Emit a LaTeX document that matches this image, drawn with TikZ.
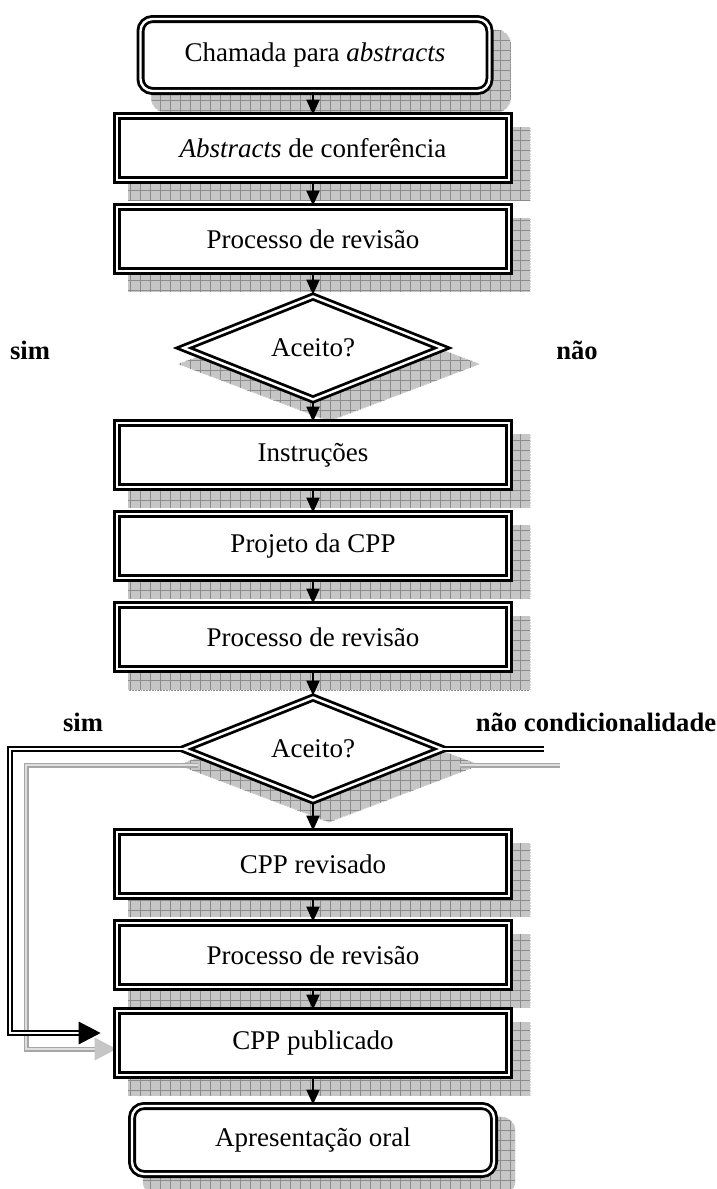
\documentclass[tikz,border=0pt]{standalone}
\usepackage{fontspec}
\setmainfont{Liberation Serif}
\usetikzlibrary{shapes.geometric,arrows.meta,backgrounds,calc}
\begin{document}
\begin{tikzpicture}[x=0.5pt,y=-0.5pt,
  txt/.style={font=\fontsize{13.5}{16}\selectfont},
  box/.style={txt, draw=black, line width=1.4pt, double=white, double distance=1.2pt,
    fill=white, minimum width=196pt, minimum height=32pt, inner sep=0pt},
  rbox/.style={box, rounded corners=6pt},
  dia/.style={box, diamond, minimum width=130pt, minimum height=52pt},
  arr/.style={line width=1pt, -{Triangle[length=7.5pt,width=6.5pt]}},
  lab/.style={font=\fontsize{13.3}{16}\selectfont\bfseries},
  dline/.style={draw=black, line width=0.9pt, double=white, double distance=1.3pt},
  sline/.style={draw=gray!70, line width=0.6pt, double=gray!25, double distance=1.3pt},
  shadowsty/.style={fill=gray!45, draw=white, densely dotted, line width=0.4pt,
    path picture={\draw[gray!90, solid, line width=0.3pt, step=5pt]
      (path picture bounding box.south west) grid (path picture bounding box.north east);}},
]
\useasboundingbox (0,0) rectangle (717,1189);

% nodes
\node[rbox, minimum width=174.5pt, minimum height=36pt] (n1) at (315,55) {Chamada para \textit{abstracts}};
\node[box] (n2) at (313,148) {\textit{Abstracts} de conferência};
\node[box] (n3) at (313,239) {Processo de revisão};
\node[dia] (d1) at (313,348) {Aceito?};
\node[box] (n4) at (313,455) {Instruções};
\node[box] (n5) at (313,546) {Projeto da CPP};
\node[box] (n6) at (313,637) {Processo de revisão};
\node[dia] (d2) at (313,749) {Aceito?};
\node[box] (n7) at (313,864) {CPP revisado};
\node[box] (n8) at (313,955) {Processo de revisão};
\node[box] (n9) at (313,1043) {CPP publicado};
\node[rbox, minimum width=181pt, minimum height=34pt] (n10) at (313,1140) {Apresentação oral};

% labels
\node[lab] (s1) at (30,350) {sim};
\node[lab] (s2) at (577,350) {não};
\node[lab] (s3) at (83,722) {sim};
\node[lab] (s4) at (596,722) {não condicionalidade};

% connector helper coordinates
\coordinate (L) at (10,749);
\coordinate (R) at (544,749);
\coordinate (T) at ($(n9.west)+(-15,-10)$);
\coordinate (A) at ($(T)+(-22,0)$);

% shadows
\begin{scope}[on background layer]
  \path[shadowsty, rounded corners=7pt] ([shift={(12,12)}]n1.north west) rectangle ([shift={(20,20)}]n1.south east);
  \foreach \n in {n2,n3,n4,n5,n6,n7,n8,n9}{
    \path[shadowsty] ([shift={(12,12)}]\n.north west) rectangle ([shift={(20,20)}]\n.south east);
  }
  \path[shadowsty, rounded corners=7pt] ([shift={(12,12)}]n10.north west) rectangle ([shift={(20,20)}]n10.south east);
  \foreach \d in {d1,d2}{
    \path[shadowsty] ([shift={(16,12)}]\d.north) -- ([shift={(36,16)}]\d.east)
      -- ([shift={(16,20)}]\d.south) -- ([shift={(-4,16)}]\d.west) -- cycle;
  }
  \draw[sline] ([shift={(16,16)}]d2.west) -- ([shift={(16,16)}]L) |- ([shift={(16,16)}]A);
  \draw[sline] ([shift={(16,16)}]d2.east) -- ([shift={(16,16)}]R);
  \fill[gray!45] ([shift={(16,4.5)}]A) -- ([shift={(16,16)}]T) -- ([shift={(16,27.5)}]A) -- cycle;
\end{scope}

% vertical arrows
\draw[arr] (n1.south -| n2.north) -- (n2.north);
\draw[arr] (n2) -- (n3);
\draw[arr] (n3) -- (d1);
\draw[arr] (d1) -- (n4);
\draw[arr] (n4) -- (n5);
\draw[arr] (n5) -- (n6);
\draw[arr] (n6) -- (d2);
\draw[arr] (d2) -- (n7);
\draw[arr] (n7) -- (n8);
\draw[arr] (n8) -- (n9);
\draw[arr] (n9) -- (n10);

% side connectors
\draw[dline] (d2.west) -- (L) |- (A);
\fill (A) ++(0,-11.5) -- (T) -- ($(A)+(0,11.5)$) -- cycle;
\draw[dline] (d2.east) -- (R);
\end{tikzpicture}
\end{document}
